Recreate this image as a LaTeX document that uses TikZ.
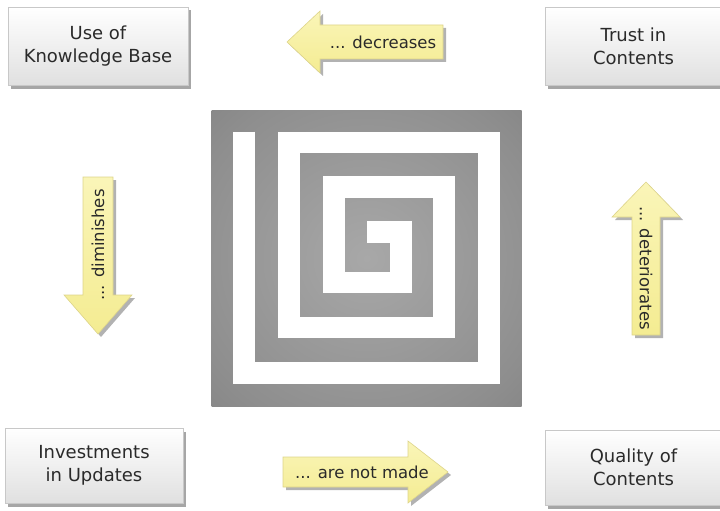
\documentclass[tikz,border=0pt]{standalone}
\usepackage{fontspec}
\setmainfont{DejaVu Sans}
\usetikzlibrary{shadows}
\definecolor{txt}{HTML}{2A2A2A}
\definecolor{boxline}{HTML}{C8C8C8}
\definecolor{boxbot}{HTML}{E0E0E0}
\definecolor{arrfill}{HTML}{F4EC92}
\definecolor{arrtop}{HTML}{FAF5B8}
\definecolor{arrline}{HTML}{DDD48A}
\definecolor{spdark}{HTML}{787878}
\definecolor{spmid}{HTML}{8E8E8E}
\definecolor{splight}{HTML}{A8A8A8}
\pgfdeclareradialshading{spshade}{\pgfpoint{0bp}{0bp}}{color(0bp)=(splight); color(30bp)=(spmid); color(50bp)=(spdark); color(71bp)=(spdark)}
\begin{document}
\begin{tikzpicture}[x=1pt,y=-1pt,
  box/.style={draw=boxline, line width=0.8pt, top color=white, bottom color=boxbot,
    text=txt, align=center, inner sep=0pt, font=\fontsize{18}{23}\selectfont,
    drop shadow={shadow xshift=3pt, shadow yshift=-3.5pt, opacity=0.35, fill=black}},
  arrowshape/.style={draw=arrline, line width=0.6pt, top color=arrtop, bottom color=arrfill,
    drop shadow={shadow xshift=3pt, shadow yshift=-3pt, opacity=0.3, fill=black}},
  arrtext/.style={text=txt, inner sep=0pt, font=\fontsize{16.5}{20}\selectfont}]
\useasboundingbox (0,0) rectangle (720,511);

% boxes
\node[box, minimum width=180pt, minimum height=78pt] (ukb) at (98,46) {Use of\\Knowledge Base};
\node[box, minimum width=177pt, minimum height=78pt] (tic) at (633.5,46) {Trust in\\Contents};
\node[box, minimum width=178pt, minimum height=75pt] (iiu) at (94,465.5) {Investments\\in Updates};
\node[box, minimum width=177pt, minimum height=75pt] (qoc) at (633.5,467.5) {Quality of\\Contents};

% spiral
\shade[shading=spshade] (211.7,110) rectangle (521.7,406.7);
\draw[white, line width=21.7pt, line cap=butt, line join=miter]
  (244.2,131.7) -- (244.2,373.3) -- (489.2,373.3) -- (489.2,142.5) -- (289.2,142.5)
  -- (289.2,327.5) -- (444.2,327.5) -- (444.2,186.7) -- (334.2,186.7) -- (334.2,282.5)
  -- (400.8,282.5) -- (400.8,231.7) -- (366.7,231.7);

% arrows
\path[arrowshape] (443,25) -- (320,25) -- (320,11) -- (287,42) -- (320,73) -- (320,59) -- (443,59) -- cycle;
\node[arrtext] (dec) at (383,42) {... decreases};

\path[arrowshape] (283,457) -- (408,457) -- (408,441) -- (448,472) -- (408,503) -- (408,487) -- (283,487) -- cycle;
\node[arrtext] (anm) at (362,472) {... are not made};

\path[arrowshape] (83,177) -- (113,177) -- (113,295) -- (132,295) -- (98,334) -- (64,295) -- (83,295) -- cycle;
\node[arrtext, rotate=90] (dim) at (98,245) {... diminishes};

\path[arrowshape] (632,335) -- (660,335) -- (660,217) -- (680,217) -- (646,182) -- (612,217) -- (632,217) -- cycle;
\node[arrtext, rotate=-90] (det) at (646,268) {... deteriorates};
\end{tikzpicture}
\end{document}
